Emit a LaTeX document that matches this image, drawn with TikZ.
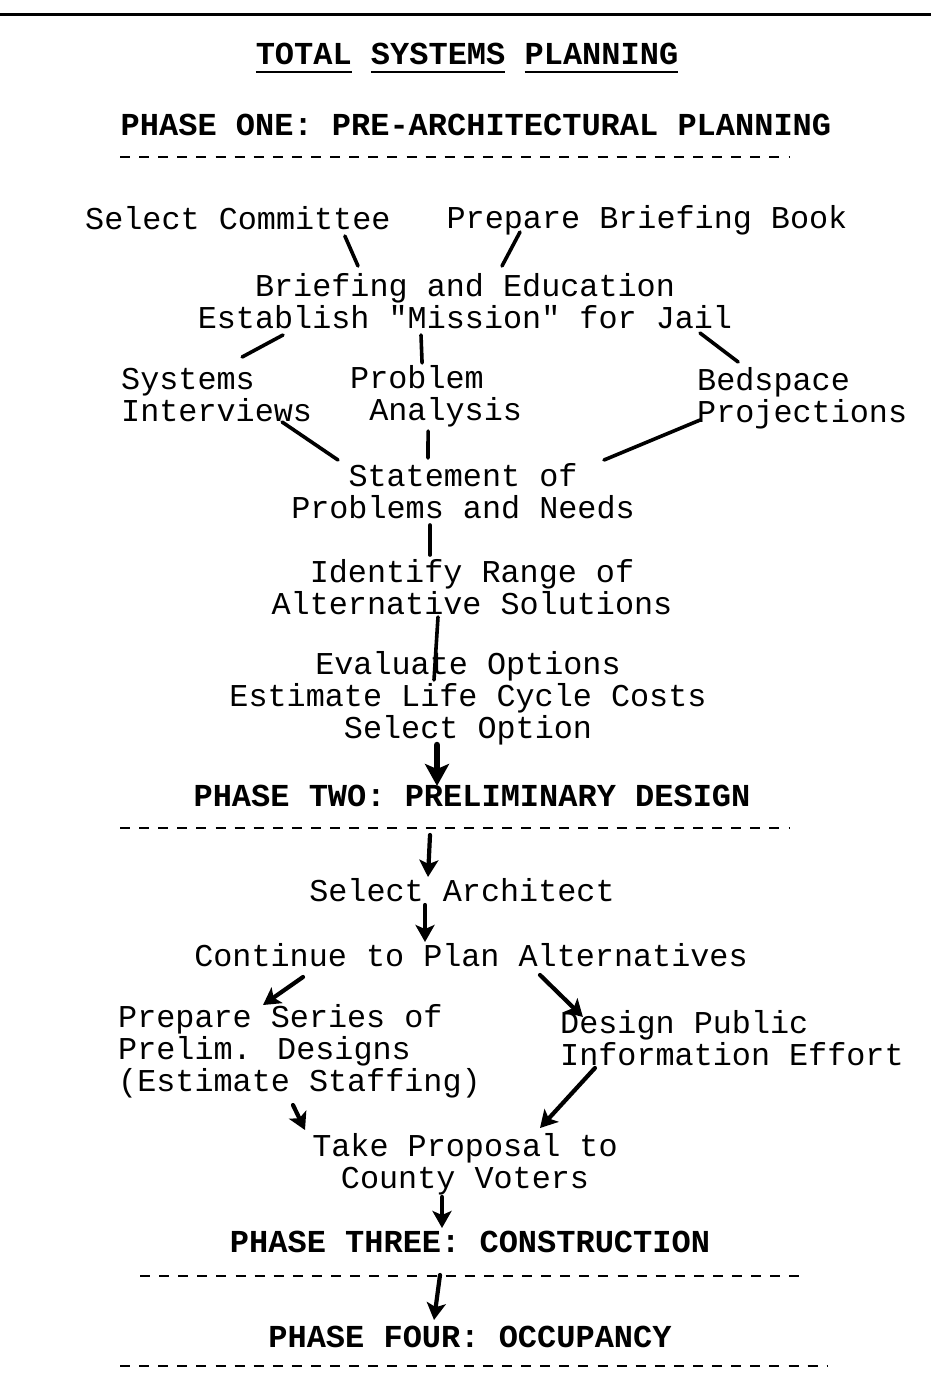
\documentclass[tikz,border=0pt]{standalone}
\usepackage{fontspec}
\usepackage{tikz}
\usetikzlibrary{arrows.meta}
\newfontfamily\typefont{Liberation Mono}
% underline one word of the title
\newcommand\ulword[1]{\setbox0\hbox{#1}\rlap{\rule[-9pt]{\wd0}{2.6pt}}\box0\relax}

\tikzset{
    txt/.style={font=\typefont\fontsize{31.8}{32}\selectfont, inner sep=0pt},
    head/.style={font=\typefont\bfseries\fontsize{32}{32}\selectfont, inner sep=0pt},
    rowdash/.style={line width=2.4pt, dash pattern=on 10pt off 9.1pt},
    link/.style={line width=3.6pt, line cap=round},
    flow/.style={link, line width=4.2pt, -{Stealth[length=17pt,width=19pt,inset=4pt]}}
}

\begin{document}
\begin{tikzpicture}[x=1pt, y=-1pt]
\useasboundingbox (0,0) rectangle (931,1374);
\draw[line width=3pt] (0,14) -- (931,14);

% headings
\node[head] (title) at (467,58) {\ulword{TOTAL} \ulword{SYSTEMS} \ulword{PLANNING}};
\node[head] (ph1) at (476,125) {PHASE ONE: PRE-ARCHITECTURAL PLANNING};
\draw[rowdash] (120,157) -- (790,157);

% phase one
\node[txt, anchor=west] (selcom) at (85,218) {Select Committee};
\node[txt] (prepbook) at (647,220) {Prepare Briefing Book};
\node[txt, align=center] (brief) at (465,301) {Briefing and Education\\Establish "Mission" for Jail};
\node[txt, align=left, anchor=west] (sysint) at (121,395) {Systems\\Interviews};
\node[txt, align=left, anchor=west] (probana) at (350,396) {Problem\\\phantom{x}Analysis};
\node[txt, align=left, anchor=west] (bedproj) at (697,398) {Bedspace\\Projections};
\node[txt, align=center] (state) at (463,491) {Statement of\\Problems and Needs};
\node[txt, align=center] (ident) at (472,587) {Identify Range of\\Alternative Solutions};
\node[txt, align=center] (evalopt) at (468,698) {Evaluate Options\\Estimate Life Cycle Costs\\Select Option};

\draw[link] ([shift={(107,18)}]selcom.center) -- ([shift={(-107,-35)}]brief.center);
\draw[link] ([shift={(-127,12)}]prepbook.center) -- ([shift={(37,-35)}]brief.center);
\draw[link] ([shift={(-182,34)}]brief.center) -- ([shift={(25.5,-38)}]sysint.center);
\draw[link] ([shift={(-44,34)}]brief.center) -- ([shift={(-14,-33)}]probana.center);
\draw[link] ([shift={(235,32)}]brief.center) -- ([shift={(-64,-36)}]bedproj.center);
\draw[link] ([shift={(65.5,27)}]sysint.center) -- ([shift={(-125,-31)}]state.center);
\draw[link] ([shift={(-8,35)}]probana.center) -- ([shift={(-35,-33)}]state.center);
\draw[link] ([shift={(-102,22)}]bedproj.center) -- ([shift={(141,-31)}]state.center);
\draw[link] ([shift={(-33,34)}]state.center) -- ([shift={(-42,-32)}]ident.center);
\draw[link] ([shift={(-34,30)}]ident.center) -- ([shift={(-34,-18)}]evalopt.center);

% phase two
\node[head] (ph2) at (472,796) {PHASE TWO: PRELIMINARY DESIGN};
\draw[rowdash] (120,828) -- (790,828);
\node[txt] (selarch) at (462,890) {Select Architect};
\node[txt] (cont) at (471,955) {Continue to Plan Alternatives};
\node[txt, align=left, anchor=west] (prepser) at (118,1051) {Prepare Series of\\Prelim. Designs\\(Estimate Staffing)};
\node[txt, align=left, anchor=west] (despub) at (560,1038) {Design Public\\Information Effort};
\node[txt, align=center] (take) at (465,1164) {Take Proposal to\\County Voters};

\draw[flow, line width=6.5pt, -{Stealth[length=22pt,width=24pt,inset=5pt]}] ([shift={(-31,47)}]evalopt.center) -- ([shift={(-35,-10)}]ph2.center);
\draw[flow] ([shift={(-42,39)}]ph2.center) -- ([shift={(-34,-13)}]selarch.center);
\draw[flow] ([shift={(-37,15)}]selarch.center) -- ([shift={(-46,-13)}]cont.center);
\draw[flow] ([shift={(-168,22)}]cont.center) -- ([shift={(-36.5,-46)}]prepser.center);
\draw[flow] ([shift={(69,20)}]cont.center) -- ([shift={(-149,-21)}]despub.center);
\draw[flow] ([shift={(-6.5,54)}]prepser.center) -- ([shift={(-160,-34)}]take.center);
\draw[flow] ([shift={(-137,30)}]despub.center) -- ([shift={(75,-36)}]take.center);

% phases three and four
\node[head] (ph3) at (470,1242) {PHASE THREE: CONSTRUCTION};
\draw[rowdash] (140,1276) -- (805,1276);
\node[head] (ph4) at (470,1337) {PHASE FOUR: OCCUPANCY};
\draw[rowdash] (120,1366) -- (828,1366);

\draw[flow] ([shift={(-23,33)}]take.center) -- ([shift={(-28,-14)}]ph3.center);
\draw[flow] ([shift={(-30,33)}]ph3.center) -- ([shift={(-36,-17)}]ph4.center);
\end{tikzpicture}
\end{document}
